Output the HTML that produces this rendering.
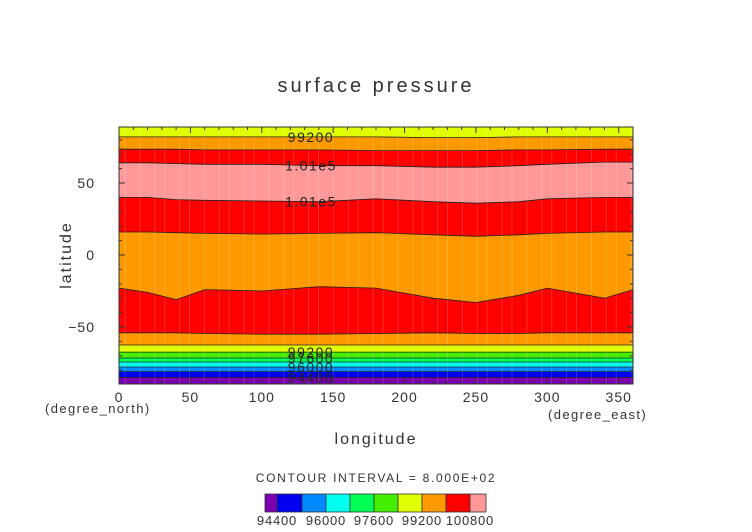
<!DOCTYPE html>
<html><head><meta charset="utf-8">
<style>
html,body{margin:0;padding:0;background:#fff;}
svg{display:block;font-family:"Liberation Sans",sans-serif;}
</style></head>
<body>
<svg id="chart" width="752" height="532" viewBox="0 0 752 532">
<text x="376" y="92" text-anchor="middle" font-size="20" fill="#333" letter-spacing="3">surface pressure</text>
<g id="plot"></g>
<g id="axes"></g>
<text x="376" y="444" text-anchor="middle" font-size="16" fill="#333" letter-spacing="2">longitude</text>
<text x="71" y="255" text-anchor="middle" font-size="16" fill="#333" letter-spacing="2" transform="rotate(-90 71 255)">latitude</text>
<text x="45" y="413" font-size="13" fill="#333" letter-spacing="1.4">(degree_north)</text>
<text x="548" y="419" font-size="13" fill="#333" letter-spacing="1.4">(degree_east)</text>
<text x="376" y="482" text-anchor="middle" font-size="12" fill="#333" letter-spacing="1.7">CONTOUR INTERVAL = 8.000E+02</text>
<g id="cbar"></g>
</svg>
<script>
const lons = [0,20,40,60,100,140,180,220,250,280,300,340,360];
const b1 = [82,82,82,82,82,82,82,81.5,81.5,82,82,82,82];
const b2 = [73.5,73.5,73.5,73,73,73,72.5,72.5,72.5,73,73,73.5,73.5];
const b3 = [64,64,63.5,63,63,62,62,61,61,62,63,64.5,64.5];
const b4 = [40,40,38.5,38,37.5,37,39,37,36,37,39,40,40];
const b5 = [16,16,15.5,15,14.5,15,15.5,14,13,14,15,16,16];
const b6 = [-23,-26,-31,-24,-25,-22,-23,-30,-33,-28,-23,-30,-24];
const b7 = [-54,-54,-54,-54.5,-55,-55,-54.5,-54,-54.5,-54.5,-54,-54,-54];
const b8 = [-62.5,-62.5,-62.5,-62.5,-62.5,-62.5,-62.5,-62.5,-62.5,-62.5,-62.5,-62.5,-62.5];
const b9 = [-67.4,-67.4,-67.4,-67.4,-67.4,-67.4,-67.4,-67.4,-67.4,-67.4,-67.4,-67.4,-67.4];
const b10 = [-71.5,-71.5,-71.5,-71.5,-71.5,-71.5,-71.5,-71.5,-71.5,-71.5,-71.5,-71.5,-71.5];
const b11 = [-74.3,-74.3,-74.3,-74.3,-74.3,-74.3,-74.3,-74.3,-74.3,-74.3,-74.3,-74.3,-74.3];
const b12 = [-77.8,-77.8,-77.8,-77.8,-77.8,-77.8,-77.8,-77.8,-77.8,-77.8,-77.8,-77.8,-77.8];
const b13 = [-81,-81,-81,-81,-81,-81,-81,-81,-81,-81,-81,-81,-81];
const b14 = [-85,-85,-85,-85,-85,-85,-85,-85,-85,-85,-85,-85,-85];
const bounds = [b1,b2,b3,b4,b5,b6,b7,b8,b9,b10,b11,b12,b13,b14];
const bandColors = ["#e0ff00","#ff9900","#ff0000","#ff9999","#ff0000","#ff9900","#ff0000","#ff9900","#e0ff00","#44ee00","#00ff55","#00ffee","#0088ff","#0000ee","#7a00b0"];
const xTicks = [0,50,100,150,200,250,300,350];
const yTicks = [50,0,-50];
const contourLabels = ["99200","1.01e5","1.01e5","99200","97600","96000","94400"];
const contourLabelIdx = [0,2,3,8,9,11,13];
const cbarLabels = ["94400","96000","97600","99200","100800"];
const cbarColors = ["#7a00b0","#0000ee","#0088ff","#00ffee","#00ff55","#44ee00","#e0ff00","#ff9900","#ff0000","#ff9999"];

const X0=119,X1=633,Y0=127,Y1=384;
const xs = lon => X0 + (lon/360)*(X1-X0);
const ys = lat => 255 - lat*1.44;
const NS="http://www.w3.org/2000/svg";
function mk(tag, attrs, parent){const e=document.createElementNS(NS,tag);for(const k in attrs)e.setAttribute(k,attrs[k]);parent.appendChild(e);return e;}
const plot=document.getElementById('plot');
const cp=mk('clipPath',{id:'clip'},plot);mk('rect',{x:X0,y:Y0,width:X1-X0,height:Y1-Y0},cp);
const g=mk('g',{'clip-path':'url(#clip)'},plot);
let r=mk('rect',{x:X0,y:Y0-5,width:X1-X0,height:Y1-Y0+10,fill:bandColors[0]},g);


function linePts(b){return lons.map((l,i)=>xs(l).toFixed(1)+','+ys(b[i]).toFixed(1)).join(' ');}
bounds.forEach((b,k)=>{
  const pts=linePts(b)+' '+(X1)+','+(Y1+10)+' '+X0+','+(Y1+10);
  const p=mk('polygon',{points:pts,fill:bandColors[k+1]},g);
  
  
});
for(let i=0;i<40;i++){const x=X0+6+i*12.9+((i*7)%5);mk('line',{x1:x,x2:x,y1:Y0,y2:Y1,stroke:'#fff','stroke-opacity':0.18,'stroke-width':1},g);}
bounds.forEach((b,k)=>{
  const l=mk('polyline',{points:linePts(b),fill:'none',stroke:'#222','stroke-width':0.8},g);
  
  
});
contourLabels.forEach((t,i)=>{
  const b=bounds[contourLabelIdx[i]];
  const lat=b[5];
  const tx=mk('text',{x:311,y:ys(lat)+5,'text-anchor':'middle','font-size':14,'letter-spacing':1.5,fill:'#222'},g);
  tx.textContent=t;
  
  
});
const axes=document.getElementById('axes');
mk('rect',{x:X0,y:Y0,width:X1-X0,height:Y1-Y0,fill:'none',stroke:'#333','stroke-width':1},axes);
for(let l=0;l<=360;l+=10){const x=xs(l),len=l%50===0?6:3;
 mk('line',{x1:x,x2:x,y1:Y1,y2:Y1-len,stroke:'#333'},axes);mk('line',{x1:x,x2:x,y1:Y0,y2:Y0+len,stroke:'#333'},axes);}
for(let la=-90;la<=90;la+=10){const y=ys(la),len=la%50===0?6:3;if(y<Y0||y>Y1)continue;
 mk('line',{x1:X0,x2:X0+len,y1:y,y2:y,stroke:'#333'},axes);mk('line',{x1:X1,x2:X1-len,y1:y,y2:y,stroke:'#333'},axes);}
xTicks.forEach(v=>{const t=mk('text',{x:xs(v),y:402,'text-anchor':'middle','font-size':14,'letter-spacing':1,fill:'#333'},axes);t.textContent=v;
 
 });
yTicks.forEach(v=>{const t=mk('text',{x:95,y:ys(v)+5,'text-anchor':'end','font-size':14,'letter-spacing':1,fill:'#333'},axes);t.textContent=v===0?'0':(v<0?'\u2212'+(-v):v);
 
 });
const cb=document.getElementById('cbar');
const edges=[265,277,302,326,350,374,398,422,446,470,486];
cbarColors.forEach((c,i)=>{const rr=mk('rect',{x:edges[i],y:494,width:edges[i+1]-edges[i],height:18,fill:c,stroke:'#333','stroke-width':0.8},cb);
 
 });
cbarLabels.forEach((t,i)=>{const tx=mk('text',{x:edges[1+2*i],y:525,'text-anchor':'middle','font-size':13,'letter-spacing':0.8,fill:'#333'},cb);tx.textContent=t;
 
 });
</script>
</body></html>
